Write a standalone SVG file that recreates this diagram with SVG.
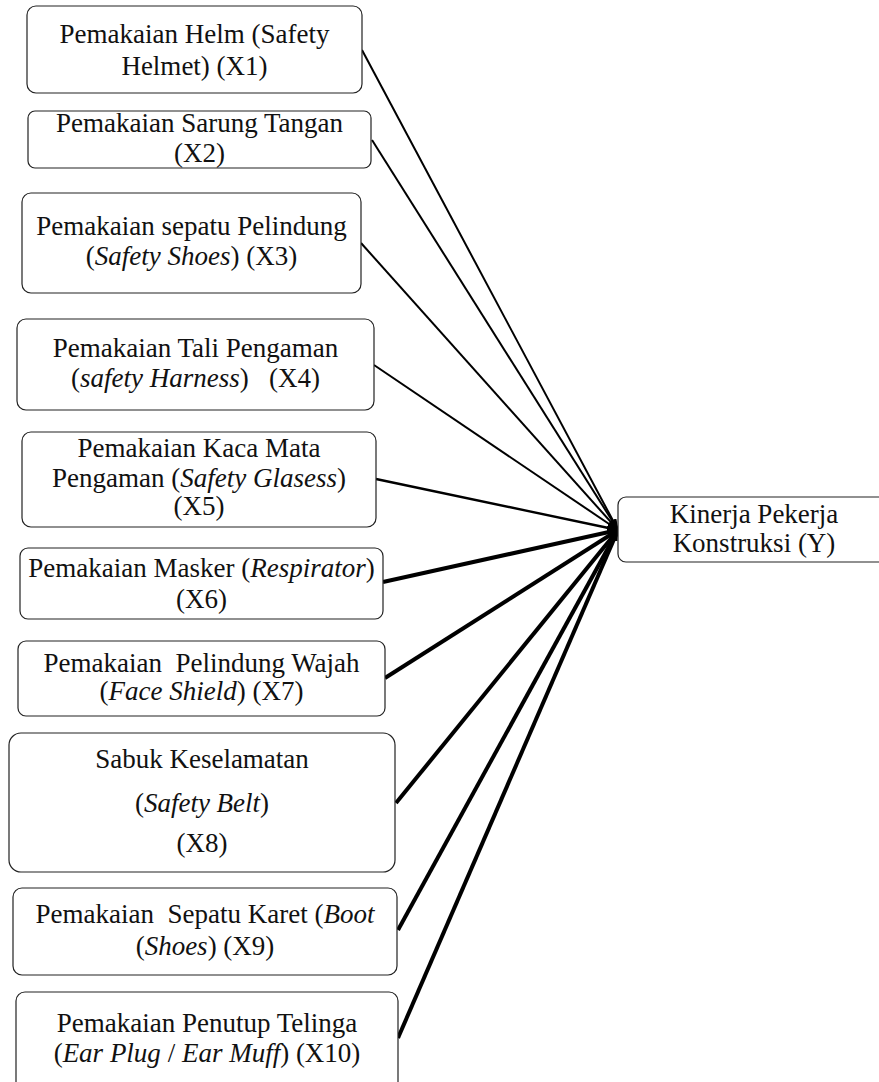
<svg xmlns="http://www.w3.org/2000/svg" width="879" height="1082" viewBox="0 0 879 1082">
<style>
.box{fill:#fff;stroke:#222;stroke-width:1.2}
.t{font-family:"Liberation Serif","Times New Roman",serif;font-size:27px;fill:#111;text-anchor:middle}
.i{font-style:italic}
.thin{stroke:#000;stroke-width:2;fill:none}
.thick{stroke:#000;stroke-width:4;fill:none}
</style>
<defs>
<marker id="ah" markerUnits="userSpaceOnUse" markerWidth="12" markerHeight="8" refX="11" refY="4" orient="auto">
<path d="M0,0 L12,4 L0,8 z" fill="#000"/>
</marker>
</defs>
<rect width="879" height="1082" fill="#fff"/>
<g id="connectors">
<line class="thin" x1="362" y1="50" x2="618" y2="530" marker-end="url(#ah)"/>
<line class="thin" x1="372" y1="140" x2="618" y2="530" marker-end="url(#ah)"/>
<line class="thin" x1="361" y1="243" x2="618" y2="530" marker-end="url(#ah)"/>
<line class="thin" x1="374" y1="365" x2="618" y2="530" marker-end="url(#ah)"/>
<line class="thin" style="stroke-width:2.4" x1="376" y1="479" x2="618" y2="530" marker-end="url(#ah)"/>
<line class="thick" x1="383" y1="582" x2="618" y2="530" marker-end="url(#ah)"/>
<line class="thick" x1="385" y1="678" x2="618" y2="530" marker-end="url(#ah)"/>
<line class="thick" x1="396" y1="803" x2="618" y2="530" marker-end="url(#ah)"/>
<line class="thick" x1="398" y1="930" x2="618" y2="530" marker-end="url(#ah)"/>
<line class="thick" x1="398" y1="1038" x2="618" y2="530" marker-end="url(#ah)"/>
</g>
<g id="x1">
<rect class="box" x="27" y="6" width="335" height="87" rx="9"/>
<text class="t" x="194.5" y="43">Pemakaian Helm (Safety</text>
<text class="t" x="194.5" y="75">Helmet) (X1)</text>
</g>
<g id="x2">
<rect class="box" x="28" y="111" width="343" height="57" rx="7"/>
<text class="t" x="199.5" y="132">Pemakaian Sarung Tangan</text>
<text class="t" x="199.5" y="162">(X2)</text>
</g>
<g id="x3">
<rect class="box" x="22" y="193" width="339" height="100" rx="9"/>
<text class="t" x="191.5" y="235">Pemakaian sepatu Pelindung</text>
<text class="t" x="191.5" y="265">(<tspan class="i">Safety Shoes</tspan>) (X3)</text>
</g>
<g id="x4">
<rect class="box" x="17" y="319" width="357" height="91" rx="9"/>
<text class="t" x="195.5" y="357">Pemakaian Tali Pengaman</text>
<text class="t" x="195.5" y="387" xml:space="preserve">(<tspan class="i">safety Harness</tspan>)   (X4)</text>
</g>
<g id="x5">
<rect class="box" x="22" y="432" width="354" height="95" rx="9"/>
<text class="t" x="199" y="457">Pemakaian Kaca Mata</text>
<text class="t" x="199" y="487">Pengaman (<tspan class="i">Safety Glasess</tspan>)</text>
<text class="t" x="199" y="515">(X5)</text>
</g>
<g id="x6">
<rect class="box" x="20" y="548" width="363" height="71" rx="8"/>
<text class="t" x="201.5" y="577">Pemakaian Masker (<tspan class="i">Respirator</tspan>)</text>
<text class="t" x="201.5" y="608">(X6)</text>
</g>
<g id="x7">
<rect class="box" x="18" y="641" width="367" height="75" rx="8"/>
<text class="t" x="201.5" y="672" xml:space="preserve">Pemakaian  Pelindung Wajah</text>
<text class="t" x="201.5" y="700">(<tspan class="i">Face Shield</tspan>) (X7)</text>
</g>
<g id="x8">
<rect class="box" x="9" y="733" width="386" height="139" rx="12"/>
<text class="t" x="202" y="768">Sabuk Keselamatan</text>
<text class="t" x="202" y="812">(<tspan class="i">Safety Belt</tspan>)</text>
<text class="t" x="202" y="852">(X8)</text>
</g>
<g id="x9">
<rect class="box" x="13" y="888" width="384" height="87" rx="9"/>
<text class="t" x="205" y="923" xml:space="preserve">Pemakaian  Sepatu Karet (<tspan class="i">Boot</tspan></text>
<text class="t" x="205" y="955">(<tspan class="i">Shoes</tspan>) (X9)</text>
</g>
<g id="x10">
<rect class="box" x="16" y="992" width="382" height="100" rx="9"/>
<text class="t" x="207" y="1032">Pemakaian Penutup Telinga</text>
<text class="t" x="207" y="1062">(<tspan class="i">Ear Plug</tspan> / <tspan class="i">Ear Muff</tspan>) (X10)</text>
</g>
<g id="y">
<rect class="box" x="618" y="497" width="280" height="65" rx="8"/>
<text class="t" x="754" y="523">Kinerja Pekerja</text>
<text class="t" x="754" y="552">Konstruksi (Y)</text>
</g>
</svg>
